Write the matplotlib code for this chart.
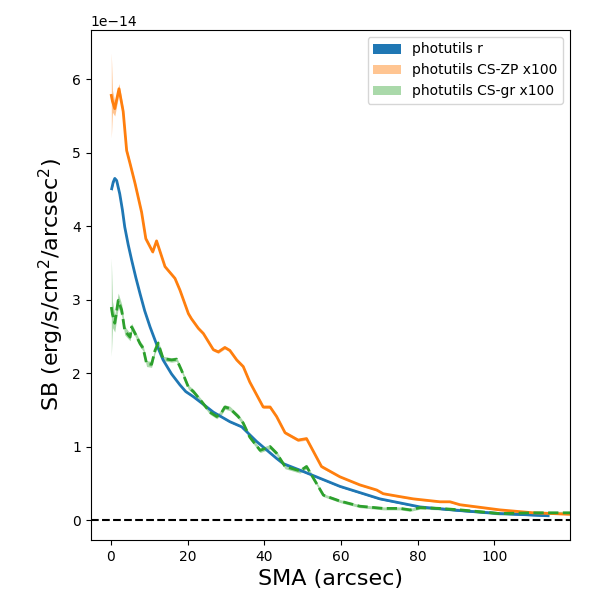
import numpy as np
import matplotlib
matplotlib.use("Agg")
import matplotlib.pyplot as plt

UNIT = 1e-14

# photutils r profile
sma_r = [0.2, 0.6, 1.0, 1.5, 2.3, 3.0, 3.6, 4.5, 5.4, 6.5, 7.6, 8.8, 10.2, 12.0, 13.6,
         15.8, 18.0, 19.5, 21.5, 24.0, 26.7, 31.0, 34.1, 38.0, 43.2, 44.9, 49.3, 54.5,
         59.7, 70.1, 80.6, 91.0, 101.4, 114.0]
sb_r = [4.51, 4.60, 4.65, 4.62, 4.44, 4.22, 3.99, 3.75, 3.54, 3.30, 3.08, 2.85, 2.63,
        2.38, 2.18, 1.99, 1.84, 1.75, 1.68, 1.58, 1.47, 1.34, 1.27, 1.07, 0.84, 0.77,
        0.68, 0.57, 0.46, 0.29, 0.18, 0.13, 0.09, 0.06]
err_r = [0.03, 0.02, 0.02, 0.02, 0.02, 0.01, 0.01, 0.01, 0.01, 0.01, 0.01, 0.01, 0.01,
         0.01, 0.01, 0.01, 0.01, 0.01, 0.01, 0.01, 0.01, 0.01, 0.01, 0.01, 0.01, 0.01,
         0.01, 0.01, 0.01, 0.01, 0.01, 0.01, 0.01, 0.01]

# CS-ZP x100
sma_zp = [0.1, 0.4, 1.0, 2.1, 3.2, 4.1, 5.0, 6.3, 8.0, 9.1, 10.9, 11.9, 14.1, 16.7, 18.0,
          20.2, 21.0, 22.8, 24.1, 26.7, 28.0, 29.7, 31.0, 32.8, 34.5, 36.2, 39.7,
          41.5, 43.2, 45.4, 48.8, 51.0, 54.9, 59.7, 64.9, 69.3, 71.0, 75.4, 78.8,
          85.8, 88.4, 91.0, 101.4, 110.1, 119.7]
sb_zp = [5.78, 5.70, 5.60, 5.87, 5.56, 5.03, 4.85, 4.58, 4.19, 3.83, 3.65, 3.80, 3.45,
         3.29, 3.13, 2.81, 2.74, 2.61, 2.54, 2.32, 2.29, 2.35, 2.31, 2.18, 2.09, 1.88,
         1.54, 1.54, 1.41, 1.19, 1.09, 1.11, 0.73, 0.59, 0.48, 0.41, 0.36, 0.32, 0.29,
         0.25, 0.25, 0.21, 0.14, 0.10, 0.08]
err_zp = [0.58, 0.15, 0.10, 0.07, 0.05, 0.04, 0.03, 0.03, 0.03, 0.03, 0.02, 0.02, 0.02,
          0.02, 0.02, 0.02, 0.02, 0.02, 0.02, 0.02, 0.02, 0.02, 0.02, 0.02, 0.02, 0.02,
          0.02, 0.02, 0.02, 0.02, 0.02, 0.02, 0.02, 0.01, 0.01, 0.01, 0.01, 0.01, 0.01,
          0.01, 0.01, 0.01, 0.01, 0.01, 0.01]

# CS-gr x100
sma_gr = [0.1, 0.4, 1.0, 1.9, 2.8, 3.6, 5.0, 5.4, 6.3, 7.6, 8.4, 9.3, 10.6, 11.5, 12.3,
          13.6, 15.8, 17.1, 18.4, 20.2, 21.5, 23.7, 25.8, 27.6, 28.9, 29.7, 31.0,
          33.2, 34.5, 36.2, 38.9, 41.5, 43.2, 45.4, 49.3, 51.0, 55.4, 59.7, 64.9,
          71.0, 75.4, 78.0, 80.6, 85.8, 91.0, 101.4, 110.1, 119.7]
sb_gr = [2.90, 2.80, 2.68, 2.99, 2.86, 2.58, 2.49, 2.63, 2.54, 2.40, 2.34, 2.13, 2.12,
         2.31, 2.41, 2.20, 2.18, 2.19, 2.04, 1.81, 1.75, 1.61, 1.47, 1.41, 1.47, 1.54,
         1.52, 1.41, 1.32, 1.13, 0.95, 1.00, 0.91, 0.73, 0.67, 0.73, 0.34, 0.26, 0.19,
         0.16, 0.16, 0.14, 0.17, 0.16, 0.14, 0.09, 0.10, 0.10]
err_gr = [0.67, 0.18, 0.12, 0.10, 0.08, 0.06, 0.05, 0.05, 0.04, 0.04, 0.04, 0.04, 0.04,
          0.04, 0.04, 0.03, 0.03, 0.03, 0.03, 0.03, 0.03, 0.03, 0.03, 0.03, 0.03, 0.03,
          0.03, 0.03, 0.03, 0.03, 0.03, 0.03, 0.03, 0.03, 0.03, 0.03, 0.02, 0.02, 0.02,
          0.02, 0.02, 0.02, 0.02, 0.02, 0.02, 0.02, 0.02, 0.02]

fig, ax = plt.subplots(figsize=(6, 6), dpi=100)
fig.subplots_adjust(left=0.151, right=0.95, top=0.95, bottom=0.1)

series = [
    (sma_r, sb_r, err_r, "C0", 1.0, "-", "photutils r"),
    (sma_zp, sb_zp, err_zp, "C1", 0.45, "-", "photutils CS-ZP x100"),
    (sma_gr, sb_gr, err_gr, "C2", 0.4, "--", "photutils CS-gr x100"),
]
for x, y, e, col, a, ls, lab in series:
    x = np.array(x); y = np.array(y) * UNIT; e = np.array(e) * UNIT
    ax.fill_between(x, y - e, y + e, color=col, alpha=a, lw=0, label=lab)
    ax.plot(x, y, color=col, ls=ls, lw=2)

ax.axhline(0, color="k", ls="--", lw=1.5)
ax.set_xlim(-5.3, 119.7)
ax.set_ylim(-0.27 * UNIT, 6.67 * UNIT)
ax.set_xlabel("SMA (arcsec)", fontsize=16)
ax.set_ylabel("SB (erg/s/cm$^2$/arcsec$^2$)", fontsize=16)
ax.legend(loc="upper right")

fig.savefig("out.png", dpi=100)
